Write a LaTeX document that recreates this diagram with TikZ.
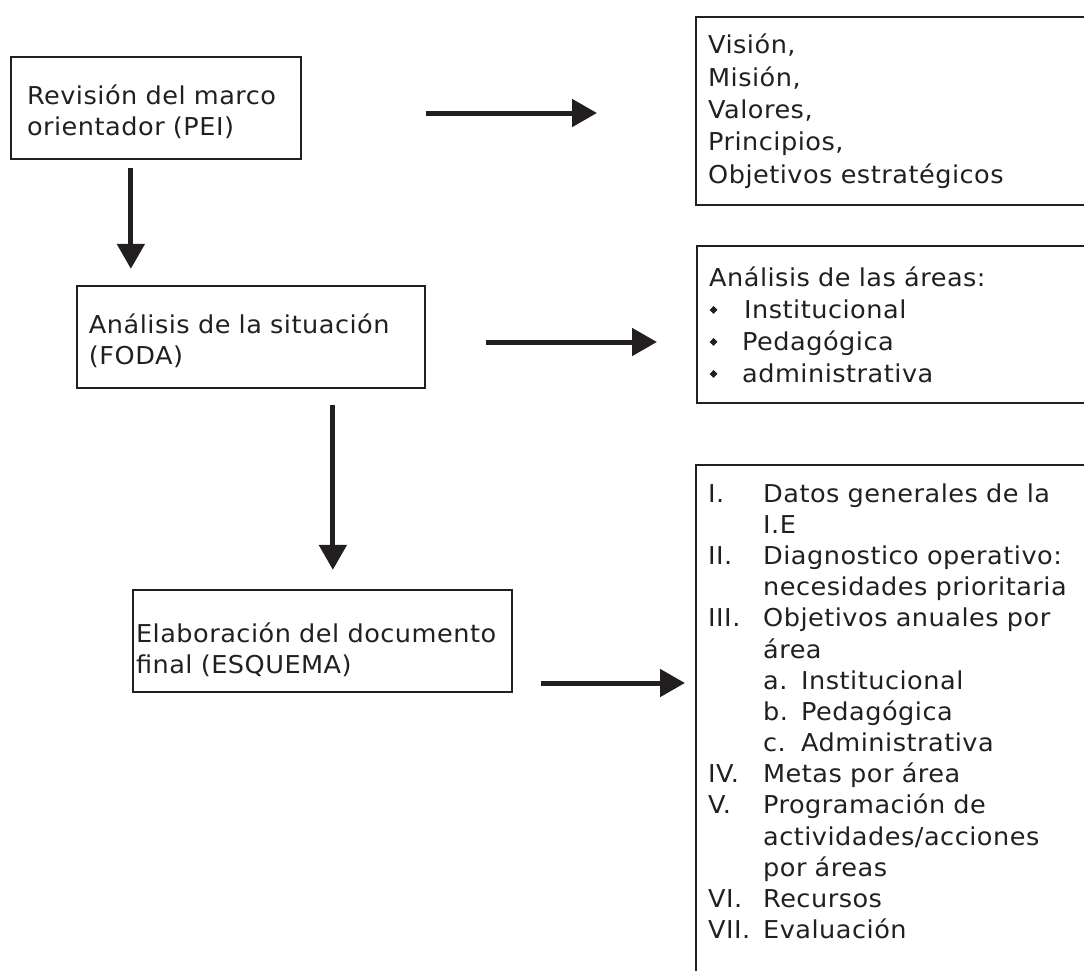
\documentclass[tikz,border=0pt]{standalone}
\usepackage{fontspec}
\setmainfont{DejaVu Sans}[FakeStretch=1.04,LetterSpace=2]
\usetikzlibrary{arrows.meta}

\definecolor{tinta}{RGB}{35,31,32}
\tikzset{
  caja/.style={draw=tinta, line width=1.15pt, text=tinta, align=left,
    font=\fontsize{12.3}{15.6}\selectfont},
  flecha/.style={draw=tinta, line width=2.5pt,
    -{Triangle[length=12.5pt,width=13.5pt]}},
}
\newcommand{\rombo}{\raisebox{2.2pt}{\rotatebox{45}{\rule{2.8pt}{2.8pt}}}}

\begin{document}
\begin{tikzpicture}[x=0.5pt,y=-0.5pt]
  \useasboundingbox (0,0) rectangle (1084,971);
  \clip (0,0) rectangle (1084,971);
  % Etapas (columna izquierda)
  \node[caja, minimum height=51pt, inner xsep=8pt, text width=129pt] (pei) at (156,108)
    {\rule{0pt}{13.5pt}Revisión del marco\\orientador (PEI)};
  \node[caja, minimum height=51pt, inner xsep=6pt, text width=162pt] (foda) at (251,337)
    {\rule{0pt}{13.5pt}Análisis de la situación\\(FODA)};
  \node[caja, minimum height=51pt, inner xsep=1.5pt, text width=186.5pt] (esq) at (322.5,641)
    {\rule{0pt}{19pt}Elaboración del documento\\final (ESQUEMA)};
  % Contenidos (columna derecha)
  \node[caja, anchor=north west, minimum height=94pt, inner xsep=6pt, text width=238pt,
    font=\fontsize{12.3}{16.2}\selectfont] (vis) at (695,16)
    {Visión,\\Misión,\\Valores,\\Principios,\\Objetivos estratégicos};
  \node[caja, anchor=north west, minimum height=78.5pt, inner xsep=6pt, text width=238pt,
    font=\fontsize{12.3}{16}\selectfont] (areas) at (696,245)
    {Análisis de las áreas:\\
     \makebox[16.5pt][l]{\hspace{0.2pt}\rombo}\hspace{1pt}Institucional\\
     \makebox[16.5pt][l]{\hspace{0.2pt}\rombo}Pedagógica\\
     \makebox[16.5pt][l]{\hspace{0.2pt}\rombo}administrativa};
  \node[caja, anchor=north west, inner xsep=6pt, inner ysep=7.5pt, text width=238pt] (plan) at (695,464)
    {\noindent\begin{tabular}{@{}p{27.5pt}@{}l@{}}
      I.   & Datos generales de la \\
           & I.E \\
      II.  & Diagnostico operativo: \\
           & necesidades prioritaria \\
      III. & Objetivos anuales por \\
           & área \\
           & \makebox[19pt][l]{a.}Institucional \\
           & \makebox[19pt][l]{b.}Pedagógica \\
           & \makebox[19pt][l]{c.}Administrativa \\
      IV.  & Metas por área \\
      V.   & Programación de \\
           & actividades/acciones \\
           & por áreas \\
      VI.  & Recursos \\
      VII. & Evaluación \\[30pt]
    \end{tabular}};
  % Flechas
  \draw[flecha] ([xshift=60.5pt,yshift=-4pt]pei.south west) -- ([xshift=27.5pt,yshift=8pt]foda.north west);
  \draw[flecha] ([xshift=128.5pt,yshift=-8pt]foda.south west) -- ([xshift=100.5pt,yshift=9.5pt]esq.north west);
  \draw[flecha, shorten <=62pt, shorten >=49pt] ([yshift=-2.5pt]pei.east) -- ([yshift=-2.5pt]pei.east -| vis.west);
  \draw[flecha, shorten <=30pt, shorten >=19.5pt] ([yshift=-2.5pt]foda.east) -- ([yshift=-2.5pt]foda.east -| areas.west);
  \draw[flecha, shorten <=14pt, shorten >=5pt] ([yshift=-21pt]esq.east) -- ([yshift=-21pt]esq.east -| plan.west);
\end{tikzpicture}
\end{document}
